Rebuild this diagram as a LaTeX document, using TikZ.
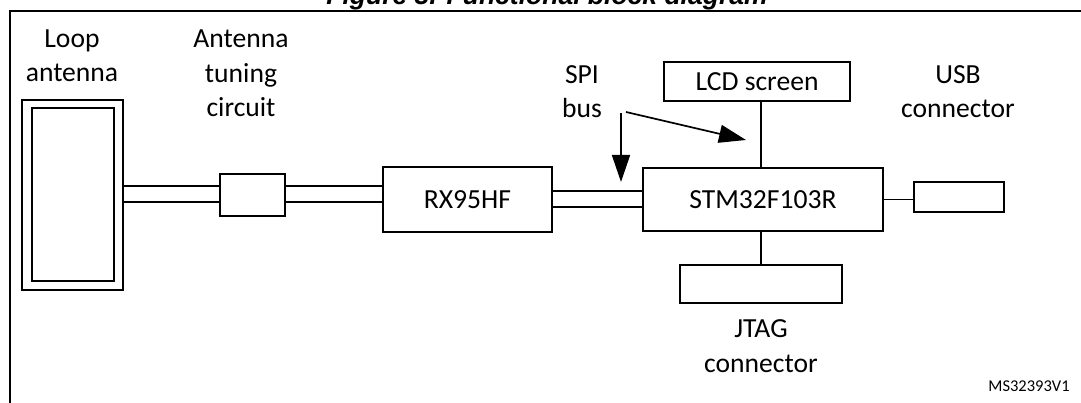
\documentclass[tikz,border=0pt]{standalone}
\usepackage{fontspec}
\setmainfont{Carlito}
\newfontfamily\titlefont{Liberation Sans}
\usetikzlibrary{arrows.meta}
\begin{document}
\begin{tikzpicture}[x=1pt,y=-1pt,
  box/.style={draw,line width=1.7pt,inner sep=0pt,font=\fontsize{27.6}{34.5}\selectfont},
  lbl/.style={align=center,inner sep=0pt,font=\fontsize{27.6}{34.5}\selectfont},
  wire/.style={line width=1.7pt},
  spiarrow/.style={line width=1.7pt,-{Triangle[length=27pt,width=18pt]}}]
\useasboundingbox (0,0) rectangle (1081,403);
\clip (0,0) rectangle (1081,403);
\fill[white] (0,0) rectangle (1081,403);
% frame and title
\draw[line width=2.2pt] (10,430) -- (10,11) -- (1110,11);
\node[anchor=base,inner sep=0pt,font=\titlefont\bfseries\itshape\fontsize{26.5}{30}\selectfont] (title) at (547,4.5) {Figure 3. Functional block diagram};
% boxes
\node[box,minimum width=101pt,minimum height=190pt] (antOuter) at (72.5,195) {};
\node[box,minimum width=82pt,minimum height=173pt] (antInner) at (73,194.5) {};
\node[box,minimum width=65pt,minimum height=42pt] (tune) at (252.5,195) {};
\node[box,minimum width=169pt,minimum height=65pt] (rx) at (467.5,199.5) {RX95HF};
\node[box,minimum width=240pt,minimum height=63pt] (stm) at (763,199.5) {STM32F103R};
\node[box,minimum width=186pt,minimum height=39pt] (lcd) at (757,81.5) {LCD screen};
\node[box,minimum width=162pt,minimum height=38pt] (jtag) at (761,284) {};
\node[box,minimum width=90pt,minimum height=30pt] (usb) at (959,197) {};
% labels (anchor = baseline of last line)
\node[lbl,anchor=base] (lblLoop) at (72,82) {Loop\\antenna};
\node[lbl,anchor=base] (lblTune) at (241,117) {Antenna\\tuning\\circuit};
\node[lbl,anchor=base] (lblSpi) at (582,118) {SPI\\bus};
\node[lbl,anchor=base] (lblUsb) at (958,118) {USB\\connector};
\node[lbl,anchor=base] (lblJtag) at (761,372) {JTAG\\connector};
\node[anchor=base,inner sep=0pt,font=\fontsize{16.5}{20}\selectfont] (ref) at (1029,391) {MS32393V1};
% double lines
\draw[wire] ([yshift=9pt]antOuter.east) -- ([yshift=9pt]tune.west);
\draw[wire] ([yshift=-7pt]antOuter.east) -- ([yshift=-7pt]tune.west);
\draw[wire] ([yshift=9pt]tune.east) -- ([yshift=9pt]tune.east -| rx.west);
\draw[wire] ([yshift=-7pt]tune.east) -- ([yshift=-7pt]tune.east -| rx.west);
\draw[wire] ([yshift=8.5pt]rx.east) -- ([yshift=8.5pt]stm.west);
\draw[wire] ([yshift=-7.5pt]rx.east) -- ([yshift=-7.5pt]stm.west);
% single connections
\draw[wire] ([xshift=-2pt]stm.north) -- ([xshift=-2pt]stm.north |- lcd.south);
\draw[wire] ([xshift=-2pt]stm.south) -- ([xshift=-2pt]stm.south |- jtag.north);
\draw[wire] (stm.east) -- (stm.east -| usb.west);
% SPI arrows
\coordinate (spiA) at (621,113);
\coordinate (spiATip) at (621,182);
\coordinate (spiB) at (626,112);
\coordinate (spiBTip) at (746,140);
\draw[spiarrow] (spiA) -- (spiATip);
\draw[spiarrow] (spiB) -- (spiBTip);
\end{tikzpicture}
\end{document}
